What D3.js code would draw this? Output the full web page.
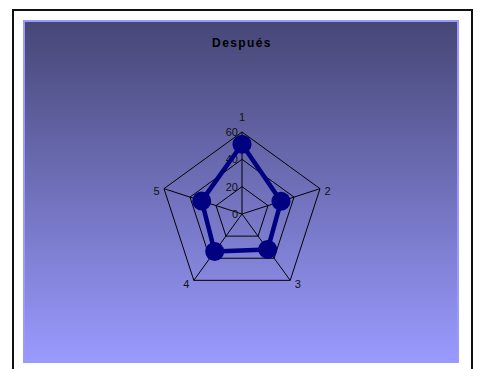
<!DOCTYPE html>
<html>
<head>
<meta charset="utf-8">
<script src="https://cdn.jsdelivr.net/npm/d3@7"></script>
<style>
  body { margin: 0; background: #fff; }
  text { font-family: Arial, "Liberation Sans", sans-serif; }
</style>
</head>
<body>
<div id="chart"></div>
<script>
// Radar chart "Después"
const title = "Después";
const categories = ["1", "2", "3", "4", "5"];
const values = [51, 30, 32, 34, 31];
const ticks = [0, 20, 40, 60];

const width = 477, height = 369;
const cx = 242, cy = 214, radius = 82;

const svg = d3.select("#chart").append("svg")
  .attr("width", width)
  .attr("height", height);

// Background gradient
const defs = svg.append("defs");
const grad = defs.append("linearGradient")
  .attr("id", "bg")
  .attr("x1", 0).attr("y1", 0).attr("x2", 0).attr("y2", 1);
grad.append("stop").attr("offset", "0%").attr("stop-color", "#464676");
grad.append("stop").attr("offset", "100%").attr("stop-color", "#9a9aff");

// Outer chart border
svg.append("rect")
  .attr("x", 13).attr("y", 10)
  .attr("width", 459).attr("height", 380)
  .attr("fill", "#fff")
  .attr("stroke", "#111")
  .attr("stroke-width", 2);

// Plot area
svg.append("rect")
  .attr("x", 24).attr("y", 21)
  .attr("width", 434).attr("height", 341)
  .attr("fill", "url(#bg)")
  .attr("stroke", "#9999ff")
  .attr("stroke-width", 2);

svg.append("text")
  .attr("x", cx).attr("y", 47)
  .attr("text-anchor", "middle")
  .style("font-size", "12px")
  .style("font-weight", "bold")
  .style("letter-spacing", "1.4px")
  .attr("fill", "#000")
  .text(title);

const r = d3.scaleLinear().domain([0, 60]).range([0, radius]);
const angle = d3.scaleLinear().domain([0, categories.length]).range([0, 2 * Math.PI]);

const px = (i, v) => cx + r(v) * Math.sin(angle(i));
const py = (i, v) => cy - r(v) * Math.cos(angle(i));

const g = svg.append("g");

// Grid rings
ticks.filter(t => t > 0).forEach(t => {
  const pts = categories.map((c, i) => [px(i, t), py(i, t)]);
  g.append("polygon")
    .attr("points", pts.map(p => p.join(",")).join(" "))
    .attr("fill", "none")
    .attr("stroke", "#000")
    .attr("stroke-width", 1);
});

// Spokes
g.selectAll(".spoke")
  .data(categories)
  .enter().append("line")
  .attr("x1", cx).attr("y1", cy)
  .attr("x2", (d, i) => px(i, 60))
  .attr("y2", (d, i) => py(i, 60))
  .attr("stroke", "#000")
  .attr("stroke-width", 1);

// Tick labels along first axis
g.selectAll(".tick")
  .data(ticks)
  .enter().append("text")
  .attr("x", cx - 4)
  .attr("y", d => cy - r(d))
  .attr("dy", "0.35em")
  .attr("text-anchor", "end")
  .style("font-size", "11px")
  .attr("fill", "#111")
  .text(d => d);

// Category labels
const side = i => {
  const s = Math.sin(angle(i));
  return s > 0.1 ? 1 : s < -0.1 ? -1 : 0;
};
g.selectAll(".cat")
  .data(categories)
  .enter().append("text")
  .attr("x", (d, i) => px(i, 60) + 4.5 * side(i))
  .attr("y", (d, i) => py(i, 60) + (i === 0 ? -15 : Math.cos(angle(i)) > 0 ? 2.5 : 4))
  .attr("dy", "0.35em")
  .attr("text-anchor", (d, i) => side(i) > 0 ? "start" : side(i) < 0 ? "end" : "middle")
  .style("font-size", "11px")
  .attr("fill", "#111")
  .text(d => d);

// Series
const line = d3.line()
  .x((d, i) => px(i, d))
  .y((d, i) => py(i, d))
  .curve(d3.curveLinearClosed);

g.append("path")
  .attr("d", line(values))
  .attr("fill", "none")
  .attr("stroke", "#000080")
  .attr("stroke-width", 4.5)
  .attr("stroke-linejoin", "round");

g.selectAll(".dot")
  .data(values)
  .enter().append("circle")
  .attr("cx", (d, i) => px(i, d))
  .attr("cy", (d, i) => py(i, d))
  .attr("r", 9.5)
  .attr("fill", "#000080");
</script>
</body>
</html>
